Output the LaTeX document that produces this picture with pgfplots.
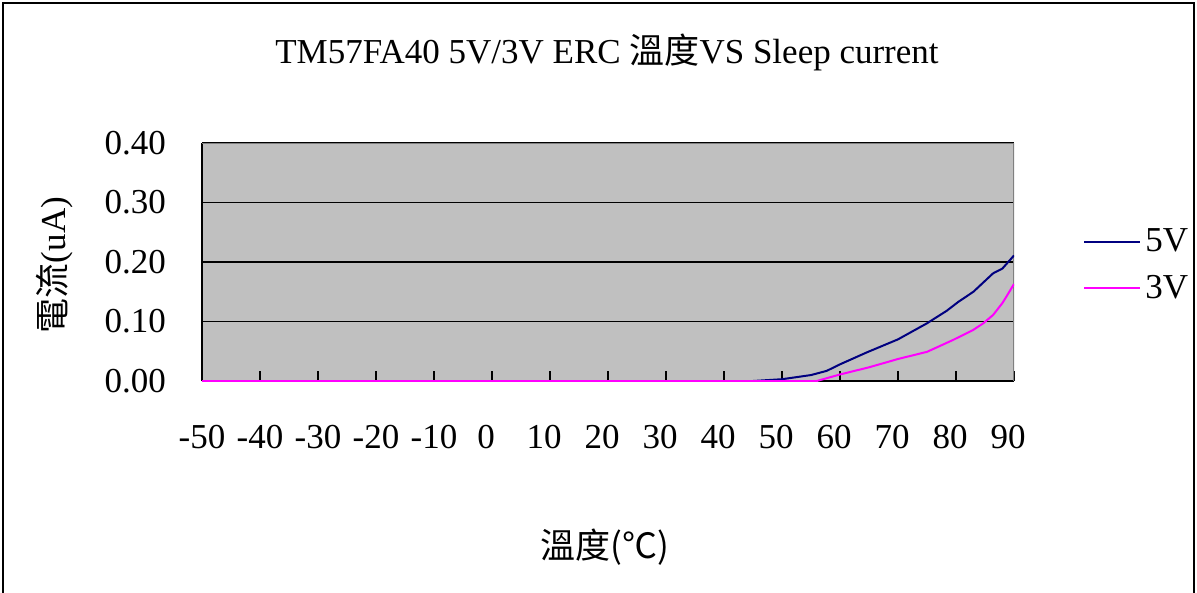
\documentclass[border=0pt]{standalone}
\usepackage{pgfplots}
\pgfplotsset{compat=1.18}
\usepackage{fontspec}
\setmainfont{Liberation Serif}
\newfontfamily\cjk{Noto Sans CJK TC}
\definecolor{plotgray}{HTML}{C0C0C0}
\definecolor{bordergray}{HTML}{808080}
\definecolor{navy5v}{HTML}{000080}
\definecolor{mag3v}{HTML}{FF00FF}
\begin{document}
\begin{tikzpicture}[font=\fontsize{17.5}{20}\selectfont]
% canvas 1197x593 px, 1px = 0.5pt
\path[use as bounding box] (0,0) rectangle (598.5pt,-296.5pt);
\draw[black, line width=0.8pt] (1.5pt,-310pt) -- (1.5pt,-1.5pt) -- (597pt,-1.5pt) -- (597pt,-310pt);
\node at (303.5pt,-26pt) {TM57FA40 5V/3V ERC {\cjk 溫度}VS Sleep current};
\node[rotate=90] at (27.5pt,-132.5pt) {{\cjk 電流}(uA)};
\node at (302.5pt,-273.5pt) {{\cjk 溫度(℃)}};
\begin{axis}[
    at={(101pt,-190.5pt)}, anchor=south west,
    scale only axis,
    width=406pt, height=119pt,
    xmin=-50, xmax=90,
    ymin=0, ymax=0.4,
    xtick={-50,-40,...,90},
    ytick={0,0.1,...,0.4},
    axis x line*=bottom,
    axis y line*=left,
    axis line style={black, line width=0.8pt},
    tick align=inside,
    major tick length=5pt,
    tick style={black, line width=0.6pt},
    ymajorgrids,
    grid style={black, line width=0.6pt},
    axis background/.style={fill=plotgray},
    /pgf/number format/assume math mode=true,
    y tick label style={/pgf/number format/fixed, /pgf/number format/fixed zerofill,
        /pgf/number format/precision=2, xshift=-14.5pt},
    x tick label style={yshift=-18.5pt, xshift={-3pt*(\ticknum>4)}},
    legend style={at={(1.085,0.487)}, anchor=west, draw=none, fill=none,
        row sep=6pt, inner sep=0pt},
    legend cell align=left,
    legend image code/.code={\draw[#1] (0pt,0pt) -- (28pt,0pt);},
]
\draw[bordergray, line width=0.8pt] (rel axis cs:0,1) -- (rel axis cs:1,1) -- (rel axis cs:1,0);
\addplot[navy5v, line width=1pt] coordinates {
    (-50,0) (-40,0) (-30,0) (-20,0) (-10,0) (0,0) (10,0) (20,0) (30,0) (40,0)
    (45,0) (50,0.003) (55,0.010) (57.7,0.017) (60,0.028) (64.6,0.048)
    (70,0.070) (75,0.097) (78.4,0.118) (80.4,0.133) (83,0.150)
    (86.4,0.181) (88,0.189) (90,0.211)
};
\addplot[mag3v, line width=1pt] coordinates {
    (-50,0) (-40,0) (-30,0) (-20,0) (-10,0) (0,0) (10,0) (20,0) (30,0) (40,0)
    (50,0) (56,0) (60,0.011) (65,0.023) (70,0.037) (75,0.049) (79.5,0.069)
    (83,0.086) (84.7,0.097) (86.4,0.111) (88,0.131) (88.7,0.142) (90,0.163)
};
\legend{5V,3V}
\end{axis}
\end{tikzpicture}
\end{document}
